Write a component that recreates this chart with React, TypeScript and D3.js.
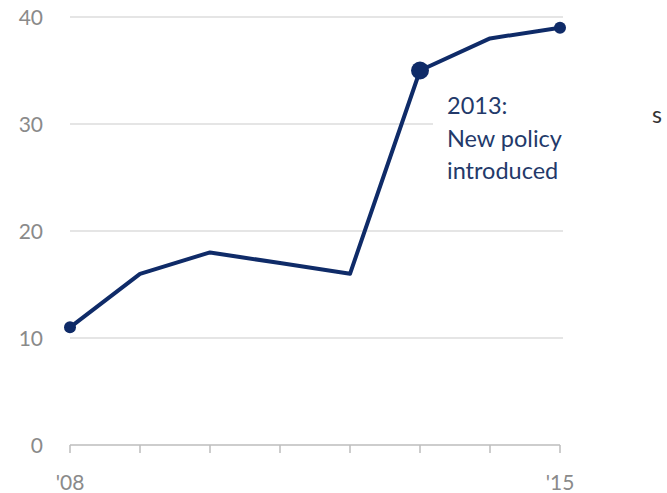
import React from "react";
import * as d3 from "d3";

const years = [2008, 2009, 2010, 2011, 2012, 2013, 2014, 2015];
const values = [11, 16, 18, 17, 16, 35, 38, 39];
const yTicks = [0, 10, 20, 30, 40];
const xTickLabels = ["'08", "'15"];
const annotationLines = ["2013:", "New policy", "introduced"];
const highlightYear = 2013;

export default function App() {
  const W = 667, H = 493;
  const x = d3.scaleLinear().domain([2008, 2015]).range([70, 560]);
  const y = d3.scaleLinear().domain([0, 40]).range([445, 17]);
  const line = d3.line<number>().x((_, i) => x(years[i])).y((d) => y(d));
  const navy = "#0f2b68";
  const font = "Lato, 'Open Sans', sans-serif";
  const hi = years.indexOf(highlightYear);
  return (
    <svg width={W} height={H} style={{ position: "absolute", left: 0, top: 0, background: "#fff" }}>
      {yTicks.filter((t) => t > 0).map((t) => (
        <line key={t} x1={70} x2={t === 30 ? 433 : 563} y1={y(t)} y2={y(t)} stroke="#dcdcdc" strokeWidth={1.5} />
      ))}
      <line x1={70} x2={560} y1={y(0)} y2={y(0)} stroke="#bdbdbd" strokeWidth={1.5} />
      {years.map((yr) => (
        <line key={yr} x1={x(yr)} x2={x(yr)} y1={y(0)} y2={y(0) + 8} stroke="#bdbdbd" strokeWidth={1.5} />
      ))}
      {yTicks.map((t) => (
        <text key={t} x={43} y={y(t)} dy="0.36em" textAnchor="end" fill="#8a8a8a" fontSize={21} fontFamily={font}>
          {t}
        </text>
      ))}
      <text x={x(2008)} y={490} textAnchor="middle" fill="#8a8a8a" fontSize={21} fontFamily={font}>{xTickLabels[0]}</text>
      <text x={x(2015)} y={490} textAnchor="middle" fill="#8a8a8a" fontSize={21} fontFamily={font}>{xTickLabels[1]}</text>
      <path d={line(values) || ""} fill="none" stroke={navy} strokeWidth={4} strokeLinejoin="round" />
      <circle cx={x(years[0])} cy={y(values[0])} r={6} fill={navy} />
      <circle cx={x(years[years.length - 1])} cy={y(values[values.length - 1])} r={6} fill={navy} />
      <circle cx={x(years[hi])} cy={y(values[hi])} r={9} fill={navy} />
      {annotationLines.map((l, i) => (
        <text key={i} x={447} y={114 + i * 32.5} fill="#23396a" fontSize={23.5} fontFamily={font}>
          {l}
        </text>
      ))}
      <text x={652} y={123} fill="#333" fontSize={23} fontFamily={font}>s</text>
    </svg>
  );
}
